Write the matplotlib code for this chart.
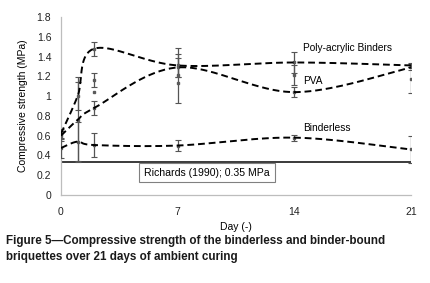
import numpy as np
import matplotlib
matplotlib.use("Agg")
import matplotlib.pyplot as plt

plt.rcParams['font.family'] = ['Liberation Sans', 'DejaVu Sans']

# data
days = [0, 1, 2, 7, 14, 21]
poly = [0.62, 1.00, 1.48, 1.31, 1.34, 1.31]
poly_err = [0.05, 0.14, 0.07, 0.12, 0.11, 0.02]
pva = [0.60, 0.76, 0.88, 1.29, 1.04, 1.29]
pva_err = [0.05, 0.43, 0.07, 0.10, 0.05, 0.03]
binderless = [0.475, 0.54, 0.505, 0.50, 0.58, 0.46]
binderless_err = [0.10, 0.20, 0.12, 0.06, 0.03, 0.14]

other_days = [2, 7, 14, 21]
other = [1.16, 1.21, 1.21, 1.17]
other_err = [0.07, 0.28, 0.10, 0.14]
other2_days = [2, 7]
other2 = [1.045, 1.13]

richards = 0.33
xticks = [0, 7, 14, 21]
yticks = [0, 0.2, 0.4, 0.6, 0.8, 1.0, 1.2, 1.4, 1.6, 1.8]
ytick_labels = ['0', '0.2', '0.4', '0.6', '0.8', '1', '1.2', '1.4', '1.6', '1.8']


def smooth(xs, ys, n=40):
    # Excel-like smoothed line (Catmull-Rom through bezier segments)
    p = np.column_stack([xs, ys]).astype(float)
    out = []
    for i in range(len(p) - 1):
        p0 = p[i - 1] if i > 0 else p[i]
        p3 = p[i + 2] if i + 2 < len(p) else p[i + 1]
        c1 = p[i] + (p[i + 1] - p0) / 6
        c2 = p[i + 1] - (p3 - p[i]) / 6
        t = np.linspace(0, 1, n)[:, None]
        seg = ((1 - t) ** 3 * p[i] + 3 * (1 - t) ** 2 * t * c1
               + 3 * (1 - t) * t ** 2 * c2 + t ** 3 * p[i + 1])
        out.append(seg if i == 0 else seg[1:])
    out = np.vstack(out)
    return out[:, 0], out[:, 1]


fig = plt.figure(figsize=(4.31, 2.83), dpi=100)
ax = fig.add_axes([0.1415, 0.311, 0.812, 0.629])

ax.axhline(richards, color='#3a3a3a', lw=1.4, zorder=2)

ebar = dict(fmt='s', ms=1.8, color='#5a5a5a', ecolor='#555555', elinewidth=0.9,
            capsize=2, capthick=0.8, zorder=3)
ax.errorbar(days, poly, yerr=poly_err, **ebar)
ax.errorbar(days, pva, yerr=pva_err, **ebar)
ax.errorbar(days, binderless, yerr=binderless_err, **ebar)
ax.errorbar(other_days, other, yerr=other_err, **ebar)
ax.plot(other2_days, other2, 's', ms=1.8, color='#5a5a5a', zorder=3)

for ys in (poly, pva, binderless):
    sx, sy = smooth(days, ys)
    ax.plot(sx, sy, color='black', lw=1.4, ls=(0, (3.5, 2)), zorder=4)

ax.text(14.5, 1.486, 'Poly-acrylic Binders', fontsize=7.3, va='center')
ax.text(14.5, 1.153, 'PVA', fontsize=7.3, va='center')
ax.text(14.5, 0.677, 'Binderless', fontsize=7.3, va='center')
ax.text(8.76, 0.225, 'Richards (1990); 0.35 MPa', fontsize=7.6, ha='center', va='center',
        bbox=dict(boxstyle='square,pad=0.45', fc='white', ec='#808080', lw=0.8), zorder=5)

ax.set_xlim(0, 21)
ax.set_ylim(0, 1.8)
ax.set_xticks(xticks)
ax.set_yticks(yticks)
ax.set_yticklabels(ytick_labels)
ax.tick_params(length=0, labelsize=7.5, colors='#222222')
ax.tick_params(axis='y', pad=7)
ax.tick_params(axis='x', pad=9)
for s in ('top', 'right'):
    ax.spines[s].set_visible(False)
for s in ('left', 'bottom'):
    ax.spines[s].set_color('#bdbdbd')
    ax.spines[s].set_linewidth(0.9)

ax.set_xlabel('Day (-)', fontsize=7.5, labelpad=3)
ax.set_ylabel('Compressive strength (MPa)', fontsize=7.5, labelpad=6)

fig.text(0.014, 0.168, 'Figure 5\u2014Compressive strength of the binderless and binder-bound\n'
         'briquettes over 21 days of ambient curing',
         fontsize=8.4, fontweight='bold', va='top', ha='left', linespacing=1.35,
         color='#1a1a1a')

fig.savefig('out.png', dpi=100)
